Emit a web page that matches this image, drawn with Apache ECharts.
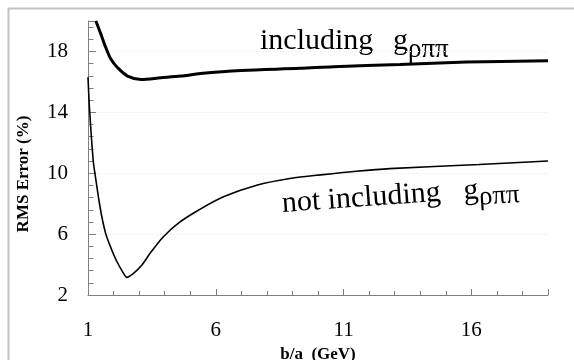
<!DOCTYPE html>
<html>
<head>
<meta charset="utf-8">
<script src="https://cdn.jsdelivr.net/npm/echarts@6/dist/echarts.min.js"></script>
<style>
html,body{margin:0;padding:0;background:#fff;}
#chart{width:574px;height:360px;}
</style>
</head>
<body>
<div id="chart"></div>
<script>
// ---- data ----
var xTickLabels = ['1', '6', '11', '16'];
var yTickLabels = ['2', '6', '10', '14', '18'];

var includingX = [1.31, 1.51, 1.70, 1.90, 2.16, 2.55, 3.07, 3.85, 4.63, 5.40, 7.00, 9.30, 10.60, 13.20, 15.80, 19.00];
var includingY = [20.0, 19.11, 18.24, 17.48, 16.93, 16.38, 16.16, 16.27, 16.38, 16.55, 16.75, 16.89, 17.00, 17.15, 17.30, 17.39];

var notIncludingX = [1.00, 1.06, 1.20, 1.27, 1.49, 1.69, 1.88, 2.10, 2.39, 2.52, 2.78, 3.11, 3.43, 3.95, 4.60, 5.32, 6.30, 7.60, 8.90, 10.20, 11.50, 12.80, 16.30, 19.00];
var notIncludingY = [16.3, 14.2, 10.9, 10.0, 7.6, 6.05, 5.17, 4.3, 3.42, 3.16, 3.42, 3.97, 4.74, 5.83, 6.8, 7.57, 8.45, 9.21, 9.65, 9.91, 10.13, 10.3, 10.57, 10.8];

function zip(xs, ys) { return xs.map(function (x, i) { return [x, ys[i]]; }); }

var serif = '"Liberation Serif", "Times New Roman", serif';
var axisGray = '#7f7f7f';

var chart = echarts.init(document.getElementById('chart'), null, {renderer: 'canvas'});
chart.setOption({
  animation: false,
  backgroundColor: '#ffffff',
  grid: {left: 88, right: 26, top: 21, bottom: 65, containLabel: false, outerBoundsMode: 'none'},
  xAxis: {
    type: 'value', min: 1, max: 19, interval: 5,
    name: 'b/a  (GeV)', nameLocation: 'middle', nameGap: 37,
    nameTextStyle: {fontFamily: serif, fontWeight: 'bold', fontSize: 17, color: '#000'},
    axisLine: {lineStyle: {color: axisGray, width: 1}},
    axisTick: {show: true, inside: true, length: 6, lineStyle: {color: axisGray, width: 1}},
    minorTick: {show: true, splitNumber: 5, length: 4, lineStyle: {color: axisGray, width: 1}},
    axisLabel: {
      margin: 25, fontFamily: serif, fontSize: 21, color: '#000',
      formatter: function (v) { var s = String(Math.round(v)); return xTickLabels.indexOf(s) >= 0 && Math.abs(v - Math.round(v)) < 1e-6 ? s : ''; }
    },
    splitLine: {show: false}
  },
  yAxis: {
    type: 'value', min: 2, max: 20, interval: 4,
    name: 'RMS Error (%)', nameLocation: 'middle', nameGap: 56,
    nameTextStyle: {fontFamily: serif, fontWeight: 'bold', fontSize: 17, color: '#000', padding: [0, 32, 0, 0]},
    axisLine: {show: true, lineStyle: {color: axisGray, width: 1}},
    axisTick: {show: true, inside: true, length: 8, lineStyle: {color: axisGray, width: 1}},
    minorTick: {show: true, splitNumber: 5, length: 5.5, lineStyle: {color: axisGray, width: 1}},
    axisLabel: {
      margin: 20, fontFamily: serif, fontSize: 21, color: '#000',
      formatter: function (v) { var s = String(Math.round(v)); return yTickLabels.indexOf(s) >= 0 && Math.abs(v - Math.round(v)) < 1e-6 ? s : ''; }
    },
    splitLine: {show: true, showMinLine: false, showMaxLine: false, lineStyle: {color: '#ededed', type: 'dotted', width: 1}}
  },
  series: [
    {
      name: 'including', type: 'line', data: zip(includingX, includingY),
      smooth: 0.3, symbol: 'none', clip: true,
      lineStyle: {color: '#000', width: 3}
    },
    {
      name: 'not including', type: 'line', data: zip(notIncludingX, notIncludingY),
      smooth: 0.3, symbol: 'none', clip: true,
      lineStyle: {color: '#000', width: 1.6}
    }
  ],
  graphic: [
    {type: 'rect', left: 6, top: 6, silent: true, z: 100,
     shape: {x: 0, y: 0, width: 800, height: 600},
     style: {fill: 'none', stroke: '#c3c3c3', lineWidth: 2}},
    {type: 'group', x: 260, y: 56, children: [
      {type: 'text', x: 0, y: 0, style: {text: 'including', font: '30px ' + serif, fill: '#000', verticalAlign: 'bottom'}},
      {type: 'text', x: 133, y: 0, style: {text: 'g', font: '30px ' + serif, fill: '#000', verticalAlign: 'bottom'}},
      {type: 'text', x: 148, y: 7, style: {text: 'ρππ', font: '27px ' + serif, fill: '#000', verticalAlign: 'bottom'}}
    ]},
    {type: 'group', x: 283, y: 219, rotation: 0.07, children: [
      {type: 'text', x: 0, y: 0, style: {text: 'not including', font: '30px ' + serif, fill: '#000', verticalAlign: 'bottom'}},
      {type: 'text', x: 182, y: 0, style: {text: 'g', font: '30px ' + serif, fill: '#000', verticalAlign: 'bottom'}},
      {type: 'text', x: 197, y: 6, style: {text: 'ρππ', font: '27px ' + serif, fill: '#000', verticalAlign: 'bottom'}}
    ]}
  ]
});
</script>
</body>
</html>
